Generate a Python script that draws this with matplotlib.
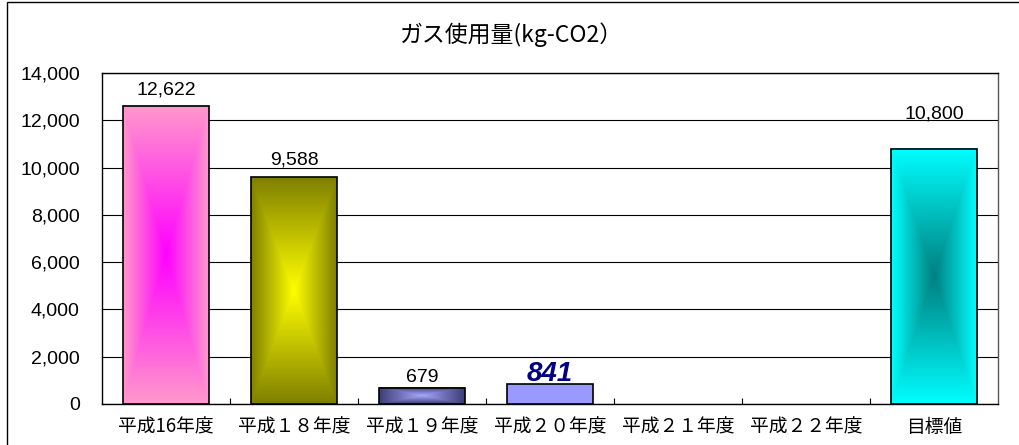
import numpy as np
import matplotlib
matplotlib.use('Agg')
import matplotlib.pyplot as plt
from matplotlib.colors import to_rgb
from matplotlib.patches import Rectangle

# データ
categories = ['平成16年度', '平成１８年度', '平成１９年度', '平成２０年度',
              '平成２１年度', '平成２２年度', '目標値']
values = [12622, 9588, 679, 841, np.nan, np.nan, 10800]
labels = ['12,622', '9,588', '679', '841', '', '', '10,800']
title = 'ガス使用量(kg-CO2）'

# 中心色 / 縁色 (同じなら単色)
center_colors = ['#FF00FF', '#FFFF00', '#A8A8FF', '#9999FF', None, None, '#007F7F']
edge_colors = ['#FF99CC', '#7F7F00', '#3C3C78', '#9999FF', None, None, '#00FFFF']
label_offsets = [7, 9, 2, -3, 0, 0, 26]  # px above bar

cjk = ['Noto Sans CJK JP', 'DejaVu Sans']
num = ['Liberation Sans', 'DejaVu Sans']

fig = plt.figure(figsize=(10.19, 4.45), dpi=100)
ax = fig.add_axes([102 / 1019, 41 / 445, 896 / 1019, 331 / 445])

width = 0.67
x = np.arange(len(categories))


def gradient_bar(ax, xc, h, w, c_center, c_edge):
    n = 300
    u = np.linspace(-1, 1, n)
    U, V = np.meshgrid(u, u)
    t = np.maximum(np.abs(U), np.abs(V))[..., None]
    cc = np.array(to_rgb(c_center))
    ce = np.array(to_rgb(c_edge))
    img = cc * (1 - t) + ce * t
    ax.imshow(img, extent=[xc - w / 2, xc + w / 2, 0, h], aspect='auto',
              origin='lower', zorder=2, interpolation='bilinear')


for i, v in enumerate(values):
    if np.isnan(v):
        continue
    if center_colors[i] == edge_colors[i]:
        ax.bar(x[i], v, width, color=center_colors[i], edgecolor='black',
               linewidth=1.2, zorder=3)
    else:
        gradient_bar(ax, x[i], v, width, center_colors[i], edge_colors[i])
        ax.bar(x[i], v, width, facecolor='none', edgecolor='black',
               linewidth=1.2, zorder=3)
    if i == 3:
        ax.annotate(labels[i], (x[i], v), xytext=(0, label_offsets[i]),
                    textcoords='offset pixels', ha='center', va='bottom',
                    fontsize=20, color='#000080', fontweight='bold',
                    fontstyle='italic', family=num, zorder=4)
    else:
        ax.annotate(labels[i], (x[i], v), xytext=(0, label_offsets[i]),
                    textcoords='offset pixels', ha='center', va='bottom',
                    fontsize=14, color='black', family=num)

ax.set_xlim(-0.5, len(categories) - 0.5)
ax.set_ylim(0, 14000)
ax.set_yticks(np.arange(0, 14001, 2000))
ax.set_yticklabels([f'{t:,}' for t in range(0, 14001, 2000)], family=num,
                   fontsize=14)
ax.tick_params(axis='y', length=0, pad=16)
ax.yaxis.grid(True, color='black', linewidth=0.8, zorder=1)
ax.set_axisbelow(True)

ax.set_xticks(x)
ax.set_xticklabels(categories, family=cjk, fontsize=13.5)
ax.tick_params(axis='x', which='major', length=0, pad=9)
ax.set_xticks(np.arange(0.5, len(categories) - 1, 1), minor=True)
ax.tick_params(axis='x', which='minor', direction='in', length=4, width=0.8)

for s in ax.spines.values():
    s.set_linewidth(1)
    s.set_color('black')
ax.spines['right'].set_color('#555555')

fig.text(512 / 1019, 1 - 35 / 445, title, ha='center', va='center',
         fontsize=16.5, family=cjk)

# 外枠
fig.patches.append(Rectangle((7 / 1019, -0.1), 1.2, 1.1 - 2 / 445,
                             transform=fig.transFigure, fill=False,
                             edgecolor='black', linewidth=1))

fig.savefig('out.png', dpi=100)
plt.close()
